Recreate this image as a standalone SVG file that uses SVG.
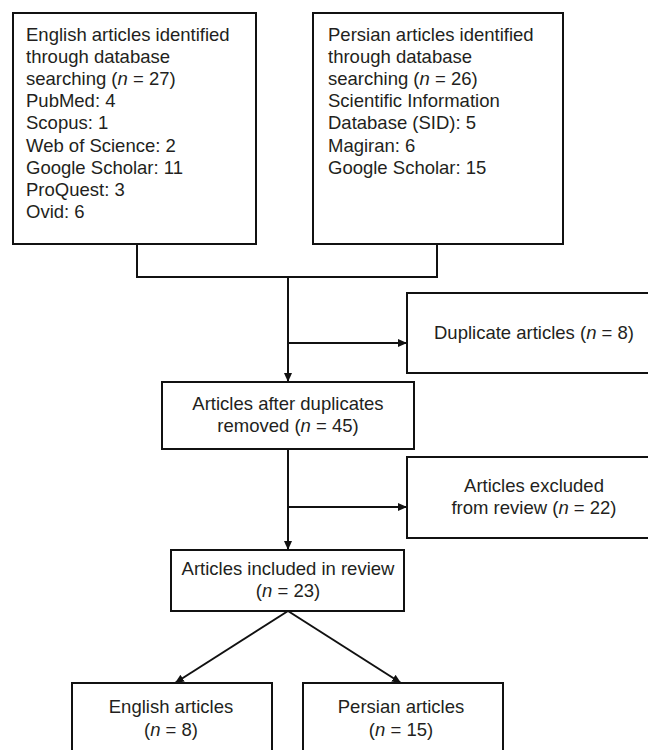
<svg xmlns="http://www.w3.org/2000/svg" width="648" height="750" viewBox="0 0 648 750">
<style>
.box{fill:#fff;stroke:#111;stroke-width:2}
.t{font-family:"Liberation Sans",Arial,sans-serif;font-size:18.5px;fill:#231f20}
.c{text-anchor:middle}
.i{font-style:italic}
.ln{fill:none;stroke:#111;stroke-width:2}
</style>
<defs>
<marker id="ah" markerUnits="userSpaceOnUse" markerWidth="9" markerHeight="8" refX="9" refY="4" orient="auto">
<path d="M0,0 L9,4 L0,8 z" fill="#111"/>
</marker>
</defs>
<rect width="648" height="750" fill="#fff"/>
<g id="connectors">
<polyline class="ln" points="137,244 137,277 437,277 437,244"/>
<line class="ln" x1="288" y1="277" x2="288" y2="382" marker-end="url(#ah)"/>
<line class="ln" x1="288" y1="343" x2="407" y2="343" marker-end="url(#ah)"/>
<line class="ln" x1="288" y1="449" x2="288" y2="550" marker-end="url(#ah)"/>
<line class="ln" x1="288" y1="507" x2="407" y2="507" marker-end="url(#ah)"/>
<line class="ln" x1="288" y1="611" x2="175" y2="683" marker-end="url(#ah)"/>
<line class="ln" x1="288" y1="611" x2="401" y2="683" marker-end="url(#ah)"/>
</g>
<g id="english-search">
<rect class="box" x="13" y="13" width="243" height="231"/>
<text class="t" x="26" y="41">English articles identified</text>
<text class="t" x="26" y="63">through database</text>
<text class="t" x="26" y="85">searching (<tspan class="i">n</tspan> = 27)</text>
<text class="t" x="26" y="107">PubMed: 4</text>
<text class="t" x="26" y="129">Scopus: 1</text>
<text class="t" x="26" y="152">Web of Science: 2</text>
<text class="t" x="26" y="174">Google Scholar: 11</text>
<text class="t" x="26" y="196">ProQuest: 3</text>
<text class="t" x="26" y="218">Ovid: 6</text>
</g>
<g id="persian-search">
<rect class="box" x="313" y="13" width="250" height="231"/>
<text class="t" x="328" y="41">Persian articles identified</text>
<text class="t" x="328" y="63">through database</text>
<text class="t" x="328" y="85">searching (<tspan class="i">n</tspan> = 26)</text>
<text class="t" x="328" y="107">Scientific Information</text>
<text class="t" x="328" y="129">Database (SID): 5</text>
<text class="t" x="328" y="152">Magiran: 6</text>
<text class="t" x="328" y="174">Google Scholar: 15</text>
</g>
<g id="duplicates">
<rect class="box" x="407" y="293" width="253" height="80"/>
<text class="t c" x="534" y="339">Duplicate articles (<tspan class="i">n</tspan> = 8)</text>
</g>
<g id="after-duplicates">
<rect class="box" x="162" y="382" width="252" height="67"/>
<text class="t c" x="288" y="410">Articles after duplicates</text>
<text class="t c" x="288" y="432">removed (<tspan class="i">n</tspan> = 45)</text>
</g>
<g id="excluded">
<rect class="box" x="407" y="457" width="253" height="81"/>
<text class="t c" x="534" y="492">Articles excluded</text>
<text class="t c" x="534" y="514">from review (<tspan class="i">n</tspan> = 22)</text>
</g>
<g id="included">
<rect class="box" x="171" y="550" width="233" height="61"/>
<text class="t c" x="288" y="575">Articles included in review</text>
<text class="t c" x="288" y="597">(<tspan class="i">n</tspan> = 23)</text>
</g>
<g id="english-articles">
<rect class="box" x="72" y="683" width="200" height="80"/>
<text class="t c" x="171" y="713">English articles</text>
<text class="t c" x="171" y="736">(<tspan class="i">n</tspan> = 8)</text>
</g>
<g id="persian-articles">
<rect class="box" x="303" y="683" width="200" height="80"/>
<text class="t c" x="401" y="713">Persian articles</text>
<text class="t c" x="401" y="736">(<tspan class="i">n</tspan> = 15)</text>
</g>
</svg>
